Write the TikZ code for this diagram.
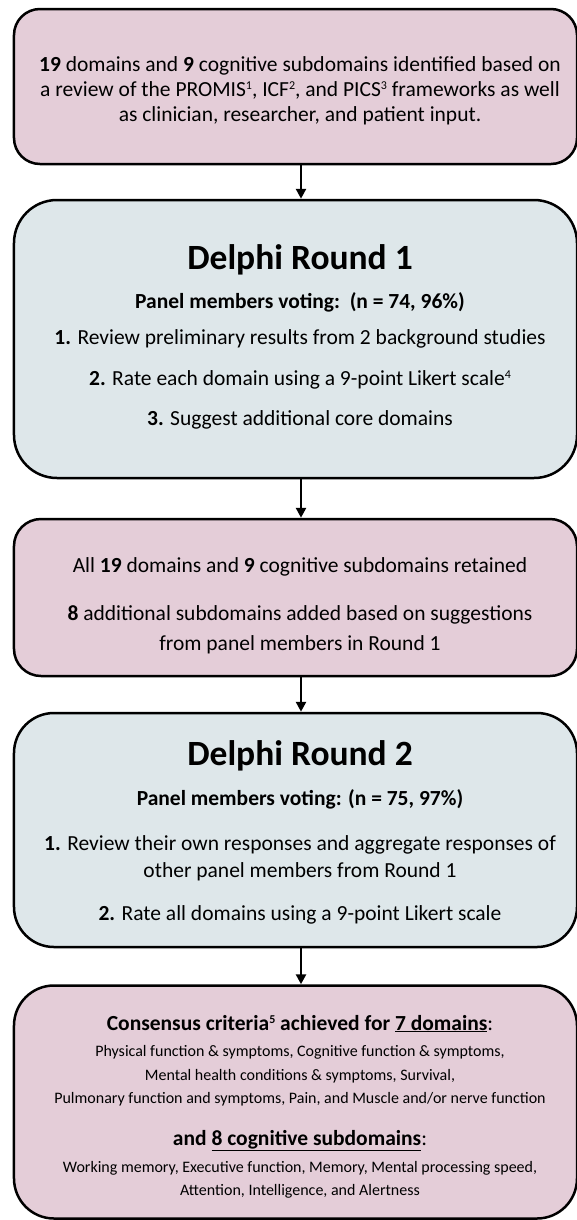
\documentclass[tikz,border=0pt]{standalone}
\usepackage{fontspec}
\setmainfont{Carlito}
\usetikzlibrary{arrows.meta}
\definecolor{pinkc}{RGB}{228,205,216}
\definecolor{bluec}{RGB}{222,231,234}
\newcommand{\bodyf}{\fontsize{21.5bp}{25bp}\selectfont}
\newcommand{\titlef}{\fontsize{35.5bp}{40bp}\selectfont\bfseries}
\newcommand{\smallf}{\fontsize{16bp}{20bp}\selectfont}
\newcommand{\sps}[1]{\raisebox{6.5bp}{\fontsize{12bp}{12bp}\selectfont #1}}
\begin{document}
\begin{tikzpicture}[x=1bp,y=-1bp,
  box/.style={draw=black, line width=2.5bp, minimum width=563bp, inner sep=0pt},
  pinkbox/.style={box, fill=pinkc},
  bluebox/.style={box, fill=bluec},
  txt/.style={anchor=base, inner sep=0pt, font=\bodyf},
  ttl/.style={anchor=base, inner sep=0pt, font=\titlef},
  sml/.style={anchor=base, inner sep=0pt, font=\smallf},
  arr/.style={line width=2.5bp, -{Triangle[length=10bp,width=10bp]}}]
\useasboundingbox (0,0) rectangle (577,1220);
\coordinate (ax) at (301,0);

% boxes
\node[pinkbox, minimum height=155bp, rounded corners=26bp] (b1) at (295.5,86.5) {};
\node[bluebox, minimum height=278bp, rounded corners=43bp] (b2) at (295.5,339) {};
\node[pinkbox, minimum height=157bp, rounded corners=27bp] (b3) at (295.5,597.5) {};
\node[bluebox, minimum height=234bp, rounded corners=40bp] (b4) at (295.5,830) {};
\node[pinkbox, minimum height=233bp, rounded corners=40bp] (b5) at (295.5,1102) {};

% arrows
\draw[arr] (b1.south -| ax) -- (b2.north -| ax);
\draw[arr] (b2.south -| ax) -- (b3.north -| ax);
\draw[arr] (b3.south -| ax) -- (b4.north -| ax);
\draw[arr] (b4.south -| ax) -- (b5.north -| ax);

% box 1
\node[txt] (t1a) at (300,71) {\textbf{19} domains and \textbf{9} cognitive subdomains identified based on};
\node[txt] (t1b) at (300,96) {a review of the PROMIS\sps{1}, ICF\sps{2}, and PICS\sps{3} frameworks as well};
\node[txt] (t1c) at (300,121) {as clinician, researcher, and patient input.};

% box 2
\node[ttl] (t2t) at (300,269) {Delphi Round 1};
\node[txt] (t2p) at (300,308) {\textbf{Panel members voting:\ \ (n = 74, 96\%)}};
\node[txt] (t2a) at (300,344) {\textbf{1.} Review preliminary results from 2 background studies};
\node[txt] (t2b) at (300,385) {\textbf{2.} Rate each domain using a 9-point Likert scale\sps{4}};
\node[txt] (t2c) at (300,425) {\textbf{3.} Suggest additional core domains};

% box 3
\node[txt] (t3a) at (300,572) {All \textbf{19} domains and \textbf{9} cognitive subdomains retained};
\node[txt] (t3b) at (300,620) {\textbf{8} additional subdomains added based on suggestions};
\node[txt] (t3c) at (300,650) {from panel members in Round 1};

% box 4
\node[ttl] (t4t) at (300,765) {Delphi Round 2};
\node[txt] (t4p) at (300,805) {\textbf{Panel members voting: (n = 75, 97\%)}};
\node[txt] (t4a) at (300,850) {\textbf{1.} Review their own responses and aggregate responses of};
\node[txt] (t4b) at (300,877) {other panel members from Round 1};
\node[txt] (t4c) at (300,920) {\textbf{2.} Rate all domains using a 9-point Likert scale};

% box 5
\node[txt] (t5h) at (300,1030) {\textbf{Consensus criteria\sps{5} achieved for \underline{7 domains}}:};
\node[sml] (t5a) at (300,1056) {Physical function \& symptoms, Cognitive function \& symptoms,};
\node[sml] (t5b) at (300,1080) {Mental health conditions \& symptoms, Survival,};
\node[sml] (t5c) at (300,1103) {Pulmonary function and symptoms, Pain, and Muscle and/or nerve function};
\node[txt] (t5k) at (300,1145) {\textbf{and \underline{8 cognitive subdomains}}:};
\node[sml] (t5d) at (300,1172) {Working memory, Executive function, Memory, Mental processing speed,};
\node[sml] (t5e) at (300,1195) {Attention, Intelligence, and Alertness};
\end{tikzpicture}
\end{document}
